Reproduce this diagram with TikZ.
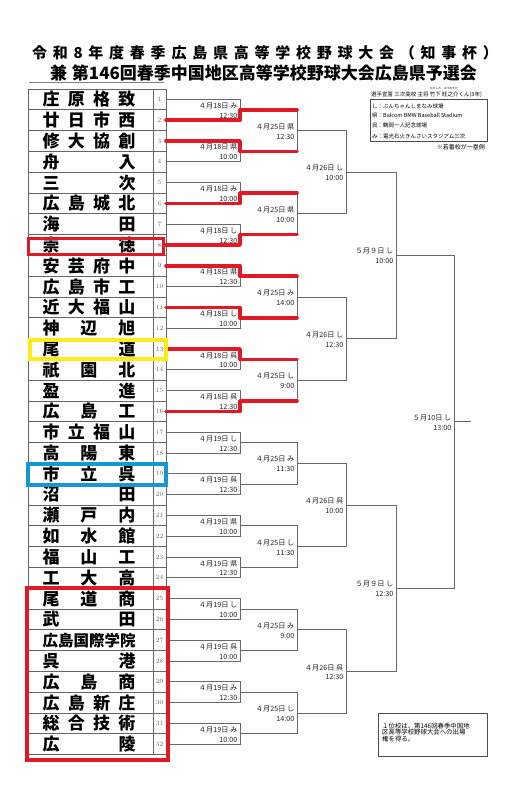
\documentclass[tikz,border=0pt]{standalone}
\usepackage{fontspec}
\newfontfamily\jp{Noto Sans CJK JP}
\usetikzlibrary{calc}
\definecolor{hlred}{RGB}{226,24,36}
\definecolor{hlyel}{RGB}{255,236,20}
\definecolor{hlblue}{RGB}{22,150,210}
\definecolor{brgray}{RGB}{105,105,105}
\begin{document}
\begin{tikzpicture}[x=1pt,y=-1pt,
  tbl/.style={draw=black!60, line width=0.8pt},
  br/.style={draw=brgray, line width=0.9pt},
  win/.style={draw=hlred, line width=3.6pt, line cap=round, line join=round},
  lbl/.style={font=\jp\fontsize{7.2}{7.2}\selectfont, text=black!85, inner sep=0pt, anchor=east},
  team/.style={font=\jp\bfseries\fontsize{17}{17}\selectfont, inner sep=0pt},
  num/.style={font=\fontsize{6.5}{6.5}\selectfont, text=black!60, inner sep=0pt},
  small/.style={font=\jp\fontsize{5.5}{5.5}\selectfont, inner sep=0pt},
  hlbox/.style={line width=#1, line join=miter},
]
\useasboundingbox[fill=white] (0,0) rectangle (531,801);

% title
\node[name=title1, font=\jp\bfseries\fontsize{15}{15}\selectfont, inner sep=0pt] at (265,53)
  {\makebox[466pt][s]{令\hfill 和\hfill 8\hfill 年\hfill 度\hfill 春\hfill 季\hfill 広\hfill 島\hfill 県\hfill 高\hfill 等\hfill 学\hfill 校\hfill 野\hfill 球\hfill 大\hfill 会\hfill （\hfill 知\hfill 事\hfill 杯\hfill ）}};
\node[name=title2, font=\jp\bfseries\fontsize{17}{17}\selectfont, inner sep=0pt] at (263.5,73)
  {\makebox[427pt][s]{兼\hfill 第146回春季中国地区高等学校野球大会広島県予選会}};
\draw[draw=black!50, line width=0.6pt] (29,82) -- (164,82);

% info top right
\node[small, name=ruby1, font=\jp\fontsize{2.8}{2.8}\selectfont] at (435.5,88) {たけした};
\node[small, name=ruby2, font=\jp\fontsize{2.8}{2.8}\selectfont] at (451,88) {おうのすけ};
\node[small, name=oath, anchor=west] at (371,94.3) {選手宣誓 三次高校 主将 竹下 旺之介くん(3年)};
\draw[draw=black!70, line width=0.6pt] (370.5,99.3) rectangle (487,141.7);
\node[small, name=lg1, anchor=west] at (372,106) {し：ぶんちゃんしまなみ球場};
\node[small, name=lg2, anchor=west] at (372,116) {県：Balcom BMW Baseball Stadium};
\node[small, name=lg3, anchor=west] at (372,125.5) {呉：鶴岡一人記念球場};
\node[small, name=lg4, anchor=west] at (372,136) {み：電光石火きんさいスタジアム三次};
\node[small, name=lg5, anchor=east, font=\jp\fontsize{6}{6}\selectfont] at (485,147) {※若番校が一塁側};

% team table
\draw[tbl] (28,89) rectangle (166,754.6);
\foreach \i in {1,...,31} \draw[tbl] (28,{89+20.8*\i}) -- (166,{89+20.8*\i});
\draw[tbl] (153,89) -- (153,754.6);

\foreach \i/\nm in {
 1/{庄\hfill 原\hfill 格\hfill 致},
 2/{廿\hfill 日\hfill 市\hfill 西},
 3/{修\hfill 大\hfill 協\hfill 創},
 4/{舟\hfill 入},
 5/{三\hfill 次},
 6/{広\hfill 島\hfill 城\hfill 北},
 7/{海\hfill 田},
 8/{崇\hfill 徳},
 9/{安\hfill 芸\hfill 府\hfill 中},
 10/{広\hfill 島\hfill 市\hfill 工},
 11/{近\hfill 大\hfill 福\hfill 山},
 12/{神\hfill 辺\hfill 旭},
 13/{尾\hfill 道},
 14/{祇\hfill 園\hfill 北},
 15/{盈\hfill 進},
 16/{広\hfill 島\hfill 工},
 17/{市\hfill 立\hfill 福\hfill 山},
 18/{高\hfill 陽\hfill 東},
 19/{市\hfill 立\hfill 呉},
 20/{沼\hfill 田},
 21/{瀬\hfill 戸\hfill 内},
 22/{如\hfill 水\hfill 館},
 23/{福\hfill 山\hfill 工},
 24/{工\hfill 大\hfill 高},
 25/{尾\hfill 道\hfill 商},
 26/{武\hfill 田},
 27/{\fontsize{15.5}{15.5}\selectfont 広\hfill 島\hfill 国\hfill 際\hfill 学\hfill 院},
 28/{呉\hfill 港},
 29/{広\hfill 島\hfill 商},
 30/{広\hfill 島\hfill 新\hfill 庄},
 31/{総\hfill 合\hfill 技\hfill 術},
 32/{広\hfill 陵}} {
  \node[team, name=team\i] at (89,{89+20.8*(\i-0.5)}) {\makebox[93pt][s]{\nm}};
  \node[num, name=num\i] at (159.5,{89+20.8*(\i-0.5)}) {\i};
  \coordinate (T\i) at (166,{89+20.8*(\i-0.5)});
}

% bracket coordinates
\foreach \r/\x/\n in {1/240/16, 2/297/8, 3/346/4, 4/396/2, 5/454/1} {
  \foreach \m in {1,...,\n} {
    \coordinate (W\r-\m) at (\x,{89+20.8*(2^\r*\m-2^(\r-1))});
  }
}
% round 1 lines
\foreach \m in {1,...,16} {
  \pgfmathtruncatemacro\a{2*\m-1}
  \pgfmathtruncatemacro\b{2*\m}
  \draw[br] (T\a) -| (W1-\m);
  \draw[br] (T\b) -| (W1-\m);
}
% later rounds
\foreach \r/\p/\n in {2/1/8, 3/2/4, 4/3/2, 5/4/1} {
  \foreach \m in {1,...,\n} {
    \pgfmathtruncatemacro\a{2*\m-1}
    \pgfmathtruncatemacro\b{2*\m}
    \draw[br] (W\p-\a) -| (W\r-\m);
    \draw[br] (W\p-\b) -| (W\r-\m);
  }
}
\coordinate (champ) at ($(W5-1)+(17,0)$);
\draw[br] (W5-1) -- (champ);

% labels
\foreach \r/\m/\d/\h in {
 1/1/{４月18日 み}/12:30, 1/2/{４月18日 県}/10:00, 1/3/{４月18日 み}/10:00, 1/4/{４月18日 し}/12:30,
 1/5/{４月18日 県}/12:30, 1/6/{４月18日 し}/10:00, 1/7/{４月18日 呉}/10:00, 1/8/{４月18日 呉}/12:30,
 1/9/{４月19日 し}/12:30, 1/10/{４月19日 呉}/12:30, 1/11/{４月19日 県}/10:00, 1/12/{４月19日 県}/12:30,
 1/13/{４月19日 し}/10:00, 1/14/{４月19日 呉}/10:00, 1/15/{４月19日 み}/12:30, 1/16/{４月19日 み}/10:00,
 2/1/{４月25日 県}/12:30, 2/2/{４月25日 県}/10:00, 2/3/{４月25日 み}/14:00, 2/4/{４月25日 し}/9:00,
 2/5/{４月25日 み}/11:30, 2/6/{４月25日 し}/11:30, 2/7/{４月25日 み}/9:00, 2/8/{４月25日 し}/14:00,
 3/1/{４月26日 し}/10:00, 3/2/{４月26日 し}/12:30, 3/3/{４月26日 呉}/10:00, 3/4/{４月26日 呉}/12:30,
 4/1/{５月９日 し}/10:00, 4/2/{５月９日 し}/12:30,
 5/1/{５月10日 し}/13:00} {
  \node[lbl, name=d\r-\m] at ([xshift=-2.5pt,yshift=4pt]W\r-\m) {\d};
  \node[lbl, name=h\r-\m] at ([xshift=-2.5pt,yshift=-6pt]W\r-\m) {\h};
}

% winners (red)
\foreach \w/\k/\j in {2/1/1, 3/2/1, 6/3/2, 8/4/2, 9/5/3, 11/6/3, 13/7/4, 16/8/4} {
  \draw[win] (T\w) -| (W1-\k) -- (W1-\k -| W2-\j);
}

% highlight boxes
\draw[hlbox=3.3pt, draw=hlred] (28.4,238.3) rectangle (163.5,254.5);
\draw[hlbox=4pt, draw=hlyel] (30,339.5) rectangle (166.3,359);
\draw[hlbox=4pt, draw=hlblue] (28,464.3) rectangle (165.7,484.7);
\draw[hlbox=4pt, draw=hlred] (27,588) rectangle (167.5,759.7);

% note box
\draw[draw=black!70, line width=0.6pt] (378,713.3) rectangle (487,756.7);
\node[name=note, anchor=north west, inner sep=0pt, align=left, font=\jp\fontsize{6.4}{6.7}\selectfont] at (382,722.5)
  {１位校は、第146回春季中国地\\区高等学校野球大会への出場\\権を得る。};
\end{tikzpicture}
\end{document}
